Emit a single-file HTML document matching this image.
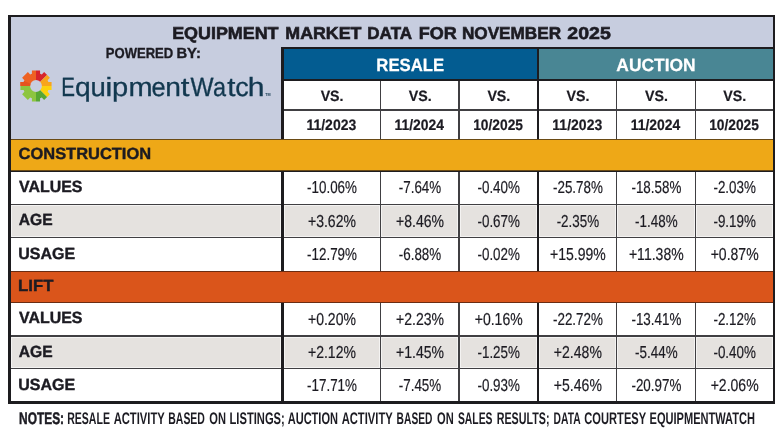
<!DOCTYPE html>
<html>
<head>
<meta charset="utf-8">
<title>Equipment Market Data for November 2025</title>
<style>
html,body{margin:0;padding:0}
body{width:780px;height:439px;position:relative;overflow:hidden;background:#fff;font-family:"Liberation Sans",sans-serif;color:#1c1b22;text-rendering:geometricPrecision}
.a{position:absolute;box-sizing:border-box}
.x{position:absolute;white-space:nowrap;transform-origin:0 0;line-height:40px}
.w{background:#fff}
.g{background:#e5e2df;box-shadow:inset 0 0 0 1px #f4f3f2}
</style>
</head>
<body>
<div id="root" style="position:absolute;left:0;top:0;width:780px;height:439px;will-change:transform;filter:blur(0.35px)">

<div class="a " style="left:8.20px;top:15.00px;width:766.90px;height:388.90px;background:#1d1c1f"></div>
<div class="a " style="left:10.90px;top:17.30px;width:761.70px;height:122.20px;background:#c7cddf"></div>
<svg class="a" style="left:16.05px;top:66.35px" width="40" height="40" viewBox="-20 -20 40 40">
<defs><clipPath id="gc"><path clip-rule="evenodd" d="M-4.09 -12.34 L-4.06 -15.58 L4.06 -15.58 L4.09 -12.34 L5.83 -11.62 L8.14 -13.89 L13.89 -8.14 L11.62 -5.83 L12.34 -4.09 L15.58 -4.06 L15.58 4.06 L12.34 4.09 L11.62 5.83 L13.89 8.14 L8.14 13.89 L5.83 11.62 L4.09 12.34 L4.06 15.58 L-4.06 15.58 L-4.09 12.34 L-5.83 11.62 L-8.14 13.89 L-13.89 8.14 L-11.62 5.83 L-12.34 4.09 L-15.58 4.06 L-15.58 -4.06 L-12.34 -4.09 L-11.62 -5.83 L-13.89 -8.14 L-8.14 -13.89 L-5.83 -11.62 Z M5.90 0 A5.90 5.90 0 1 0 -5.90 0 A5.90 5.90 0 1 0 5.90 0 Z"/></clipPath></defs>
<g clip-path="url(#gc)">
<path d="M0 0 L-20 0 L-20 -20 L0 -20 Z" fill="#ee6223"/>
<path d="M0 0 L-20 0 L-20 -8.3 Z" fill="#e5531f"/>
<path d="M0 0 L0 -20 L20 -20 Z" fill="#d7252b"/>
<path d="M0 0 L20 -20 L20 0 Z" fill="#f8a51c"/>
<path d="M0 0 L20 0 L20 20 Z" fill="#fdd20d"/>
<path d="M0 0 L20 20 L0 20 Z" fill="#57a733"/>
<path d="M0 0 L0 20 L-20 20 L-20 0 Z" fill="#8dc540"/>
</g></svg>
<div class="a " style="left:281.40px;top:47.30px;width:491.20px;height:92.20px;background:#1d1c1f"></div>
<div class="a " style="left:283.70px;top:49.40px;width:253.30px;height:29.20px;background:#035c91"></div>
<div class="a " style="left:539.20px;top:49.40px;width:233.40px;height:29.20px;background:#498694"></div>
<div class="a " style="left:283.70px;top:81.00px;width:488.90px;height:58.50px;background:#403f42"></div>
<div class="a " style="left:537.00px;top:81.00px;width:2.20px;height:58.50px;background:#1d1c1f"></div>
<div class="a w" style="left:283.70px;top:81.00px;width:95.90px;height:28.35px;"></div>
<div class="a w" style="left:283.70px;top:110.85px;width:95.90px;height:28.65px;"></div>
<div class="a w" style="left:381.10px;top:81.00px;width:77.20px;height:28.35px;"></div>
<div class="a w" style="left:381.10px;top:110.85px;width:77.20px;height:28.65px;"></div>
<div class="a w" style="left:459.80px;top:81.00px;width:77.20px;height:28.35px;"></div>
<div class="a w" style="left:459.80px;top:110.85px;width:77.20px;height:28.65px;"></div>
<div class="a w" style="left:539.20px;top:81.00px;width:76.75px;height:28.35px;"></div>
<div class="a w" style="left:539.20px;top:110.85px;width:76.75px;height:28.65px;"></div>
<div class="a w" style="left:617.45px;top:81.00px;width:77.15px;height:28.35px;"></div>
<div class="a w" style="left:617.45px;top:110.85px;width:77.15px;height:28.65px;"></div>
<div class="a w" style="left:696.10px;top:81.00px;width:76.50px;height:28.35px;"></div>
<div class="a w" style="left:696.10px;top:110.85px;width:76.50px;height:28.65px;"></div>
<div class="a " style="left:10.90px;top:171.50px;width:761.70px;height:99.50px;background:#403f42"></div>
<div class="a w" style="left:10.90px;top:171.50px;width:270.60px;height:32.35px;"></div>
<div class="a w" style="left:283.70px;top:171.50px;width:95.90px;height:32.35px;"></div>
<div class="a w" style="left:381.10px;top:171.50px;width:77.20px;height:32.35px;"></div>
<div class="a w" style="left:459.80px;top:171.50px;width:77.20px;height:32.35px;"></div>
<div class="a w" style="left:539.20px;top:171.50px;width:76.75px;height:32.35px;"></div>
<div class="a w" style="left:617.45px;top:171.50px;width:77.15px;height:32.35px;"></div>
<div class="a w" style="left:696.10px;top:171.50px;width:76.50px;height:32.35px;"></div>
<div class="a g" style="left:10.90px;top:205.25px;width:270.60px;height:31.60px;"></div>
<div class="a g" style="left:283.70px;top:205.25px;width:95.90px;height:31.60px;"></div>
<div class="a g" style="left:381.10px;top:205.25px;width:77.20px;height:31.60px;"></div>
<div class="a g" style="left:459.80px;top:205.25px;width:77.20px;height:31.60px;"></div>
<div class="a g" style="left:539.20px;top:205.25px;width:76.75px;height:31.60px;"></div>
<div class="a g" style="left:617.45px;top:205.25px;width:77.15px;height:31.60px;"></div>
<div class="a g" style="left:696.10px;top:205.25px;width:76.50px;height:31.60px;"></div>
<div class="a w" style="left:10.90px;top:238.35px;width:270.60px;height:32.65px;"></div>
<div class="a w" style="left:283.70px;top:238.35px;width:95.90px;height:32.65px;"></div>
<div class="a w" style="left:381.10px;top:238.35px;width:77.20px;height:32.65px;"></div>
<div class="a w" style="left:459.80px;top:238.35px;width:77.20px;height:32.65px;"></div>
<div class="a w" style="left:539.20px;top:238.35px;width:76.75px;height:32.65px;"></div>
<div class="a w" style="left:617.45px;top:238.35px;width:77.15px;height:32.65px;"></div>
<div class="a w" style="left:696.10px;top:238.35px;width:76.50px;height:32.65px;"></div>
<div class="a " style="left:281.40px;top:171.50px;width:2.30px;height:99.50px;background:#1d1c1f"></div>
<div class="a " style="left:537.00px;top:171.50px;width:2.20px;height:99.50px;background:#1d1c1f"></div>
<div class="a " style="left:10.90px;top:303.20px;width:761.70px;height:98.20px;background:#403f42"></div>
<div class="a w" style="left:10.90px;top:303.20px;width:270.60px;height:32.10px;"></div>
<div class="a w" style="left:283.70px;top:303.20px;width:95.90px;height:32.10px;"></div>
<div class="a w" style="left:381.10px;top:303.20px;width:77.20px;height:32.10px;"></div>
<div class="a w" style="left:459.80px;top:303.20px;width:77.20px;height:32.10px;"></div>
<div class="a w" style="left:539.20px;top:303.20px;width:76.75px;height:32.10px;"></div>
<div class="a w" style="left:617.45px;top:303.20px;width:77.15px;height:32.10px;"></div>
<div class="a w" style="left:696.10px;top:303.20px;width:76.50px;height:32.10px;"></div>
<div class="a g" style="left:10.90px;top:336.70px;width:270.60px;height:31.25px;"></div>
<div class="a g" style="left:283.70px;top:336.70px;width:95.90px;height:31.25px;"></div>
<div class="a g" style="left:381.10px;top:336.70px;width:77.20px;height:31.25px;"></div>
<div class="a g" style="left:459.80px;top:336.70px;width:77.20px;height:31.25px;"></div>
<div class="a g" style="left:539.20px;top:336.70px;width:76.75px;height:31.25px;"></div>
<div class="a g" style="left:617.45px;top:336.70px;width:77.15px;height:31.25px;"></div>
<div class="a g" style="left:696.10px;top:336.70px;width:76.50px;height:31.25px;"></div>
<div class="a w" style="left:10.90px;top:369.45px;width:270.60px;height:31.95px;"></div>
<div class="a w" style="left:283.70px;top:369.45px;width:95.90px;height:31.95px;"></div>
<div class="a w" style="left:381.10px;top:369.45px;width:77.20px;height:31.95px;"></div>
<div class="a w" style="left:459.80px;top:369.45px;width:77.20px;height:31.95px;"></div>
<div class="a w" style="left:539.20px;top:369.45px;width:76.75px;height:31.95px;"></div>
<div class="a w" style="left:617.45px;top:369.45px;width:77.15px;height:31.95px;"></div>
<div class="a w" style="left:696.10px;top:369.45px;width:76.50px;height:31.95px;"></div>
<div class="a " style="left:281.40px;top:303.20px;width:2.30px;height:98.20px;background:#1d1c1f"></div>
<div class="a " style="left:537.00px;top:303.20px;width:2.20px;height:98.20px;background:#1d1c1f"></div>
<div class="a " style="left:10.90px;top:139.20px;width:761.70px;height:32.30px;background:#6a4a14"></div>
<div class="a " style="left:10.90px;top:140.40px;width:761.70px;height:29.60px;background:#eea817"></div>
<div class="a " style="left:10.90px;top:270.60px;width:761.70px;height:32.60px;background:#6a2c12"></div>
<div class="a " style="left:10.90px;top:271.70px;width:761.70px;height:30.00px;background:#da551b"></div>
<span class="x" id="title0" style="left:0;top:0;font-size:17.20px;transform:translate(172.13px,13px) scaleX(1.0416);font-weight:bold;-webkit-text-stroke:0.60px #1c1b22">EQUIPMENT</span>
<span class="x" id="title1" style="left:0;top:0;font-size:17.20px;transform:translate(285.34px,13px) scaleX(1.0353);font-weight:bold;-webkit-text-stroke:0.60px #1c1b22">MARKET</span>
<span class="x" id="title2" style="left:0;top:0;font-size:17.20px;transform:translate(367.28px,13px) scaleX(0.9926);font-weight:bold;-webkit-text-stroke:0.60px #1c1b22">DATA</span>
<span class="x" id="title3" style="left:0;top:0;font-size:17.20px;transform:translate(418.82px,13px) scaleX(1.0475);font-weight:bold;-webkit-text-stroke:0.60px #1c1b22">FOR</span>
<span class="x" id="title4" style="left:0;top:0;font-size:17.20px;transform:translate(461.88px,13px) scaleX(0.9992);font-weight:bold;-webkit-text-stroke:0.60px #1c1b22">NOVEMBER</span>
<span class="x" id="title5" style="left:0;top:0;font-size:17.20px;transform:translate(567.29px,13px) scaleX(1.1367);font-weight:bold;-webkit-text-stroke:0.60px #1c1b22">2025</span>
<span class="x" id="pow0" style="left:0;top:0;font-size:14.50px;transform:translate(105.80px,34px) scaleX(0.8997);font-weight:bold;-webkit-text-stroke:0.35px #1c1b22">POWERED</span>
<span class="x" id="pow1" style="left:0;top:0;font-size:14.50px;transform:translate(176.38px,34px) scaleX(1.0233);font-weight:bold;-webkit-text-stroke:0.35px #1c1b22">BY:</span>
<span class="x" id="logo0" style="left:0;top:0;font-size:26.40px;transform:translate(61.14px,67px) scaleX(0.7791);color:#12384f;-webkit-text-stroke:0.30px #12384f">E</span><span class="x" id="logo1" style="left:0;top:0;font-size:26.40px;transform:translate(75.00px,67px) scaleX(1.0695);color:#12384f;-webkit-text-stroke:0.30px #12384f">q</span><span class="x" id="logo2" style="left:0;top:0;font-size:26.40px;transform:translate(90.38px,67px) scaleX(1.0427);color:#12384f;-webkit-text-stroke:0.30px #12384f">u</span><span class="x" id="logo3" style="left:0;top:0;font-size:26.40px;transform:translate(105.16px,67px) scaleX(1.2211);color:#12384f;-webkit-text-stroke:0.30px #12384f">i</span><span class="x" id="logo4" style="left:0;top:0;font-size:26.40px;transform:translate(112.07px,67px) scaleX(1.1032);color:#12384f;-webkit-text-stroke:0.30px #12384f">p</span><span class="x" id="logo5" style="left:0;top:0;font-size:26.40px;transform:translate(128.48px,67px) scaleX(1.0973);color:#12384f;-webkit-text-stroke:0.30px #12384f">m</span><span class="x" id="logo6" style="left:0;top:0;font-size:26.40px;transform:translate(151.52px,67px) scaleX(0.9616);color:#12384f;-webkit-text-stroke:0.30px #12384f">e</span><span class="x" id="logo7" style="left:0;top:0;font-size:26.40px;transform:translate(165.13px,67px) scaleX(1.0667);color:#12384f;-webkit-text-stroke:0.30px #12384f">n</span><span class="x" id="logo8" style="left:0;top:0;font-size:26.40px;transform:translate(180.76px,67px) scaleX(1.1852);color:#12384f;-webkit-text-stroke:0.30px #12384f">t</span><span class="x" id="logo9" style="left:0;top:0;font-size:26.40px;transform:translate(190.38px,67px) scaleX(0.9259);color:#12384f;-webkit-text-stroke:0.30px #12384f">W</span><span class="x" id="logo10" style="left:0;top:0;font-size:26.40px;transform:translate(213.00px,67px) scaleX(0.8889);color:#12384f;-webkit-text-stroke:0.30px #12384f">a</span><span class="x" id="logo11" style="left:0;top:0;font-size:26.40px;transform:translate(227.28px,67px) scaleX(1.1185);color:#12384f;-webkit-text-stroke:0.30px #12384f">t</span><span class="x" id="logo12" style="left:0;top:0;font-size:26.40px;transform:translate(235.15px,67px) scaleX(1.0198);color:#12384f;-webkit-text-stroke:0.30px #12384f">c</span><span class="x" id="logo13" style="left:0;top:0;font-size:26.40px;transform:translate(247.76px,67px) scaleX(1.1416);color:#12384f;-webkit-text-stroke:0.30px #12384f">h</span>
<span class="x" id="tm" style="left:0;top:0;font-size:4.40px;transform:translate(265.20px,75px) scaleX(0.8490);font-weight:bold;color:#12384f">TM</span>
<span class="x" id="resale" style="left:0;top:0;font-size:17.70px;transform:translate(376.34px,45px) scaleX(0.9457);font-weight:bold;color:#fff;-webkit-text-stroke:0.25px #fff">RESALE</span>
<span class="x" id="auction" style="left:0;top:0;font-size:17.70px;transform:translate(616.31px,45px) scaleX(0.9851);font-weight:bold;color:#fff;-webkit-text-stroke:0.25px #fff">AUCTION</span>
<span class="x" id="vs0" style="left:0;top:0;font-size:15.00px;transform:translate(320.63px,77px) scaleX(0.9478);font-weight:bold;-webkit-text-stroke:0.20px #1c1b22">VS.</span>
<span class="x" id="dt0" style="left:0;top:0;font-size:15.10px;transform:translate(306.42px,106px) scaleX(0.9282);font-weight:bold;-webkit-text-stroke:0.20px #1c1b22">11/2023</span>
<span class="x" id="vs1" style="left:0;top:0;font-size:15.00px;transform:translate(408.68px,77px) scaleX(0.9478);font-weight:bold;-webkit-text-stroke:0.20px #1c1b22">VS.</span>
<span class="x" id="dt1" style="left:0;top:0;font-size:15.10px;transform:translate(394.48px,106px) scaleX(0.9216);font-weight:bold;-webkit-text-stroke:0.20px #1c1b22">11/2024</span>
<span class="x" id="vs2" style="left:0;top:0;font-size:15.00px;transform:translate(487.38px,77px) scaleX(0.9478);font-weight:bold;-webkit-text-stroke:0.20px #1c1b22">VS.</span>
<span class="x" id="dt2" style="left:0;top:0;font-size:15.10px;transform:translate(473.19px,106px) scaleX(0.9129);font-weight:bold;-webkit-text-stroke:0.20px #1c1b22">10/2025</span>
<span class="x" id="vs3" style="left:0;top:0;font-size:15.00px;transform:translate(566.56px,77px) scaleX(0.9478);font-weight:bold;-webkit-text-stroke:0.20px #1c1b22">VS.</span>
<span class="x" id="dt3" style="left:0;top:0;font-size:15.10px;transform:translate(552.35px,106px) scaleX(0.9282);font-weight:bold;-webkit-text-stroke:0.20px #1c1b22">11/2023</span>
<span class="x" id="vs4" style="left:0;top:0;font-size:15.00px;transform:translate(645.01px,77px) scaleX(0.9478);font-weight:bold;-webkit-text-stroke:0.20px #1c1b22">VS.</span>
<span class="x" id="dt4" style="left:0;top:0;font-size:15.10px;transform:translate(630.80px,106px) scaleX(0.9216);font-weight:bold;-webkit-text-stroke:0.20px #1c1b22">11/2024</span>
<span class="x" id="vs5" style="left:0;top:0;font-size:15.00px;transform:translate(723.33px,77px) scaleX(0.9478);font-weight:bold;-webkit-text-stroke:0.20px #1c1b22">VS.</span>
<span class="x" id="dt5" style="left:0;top:0;font-size:15.10px;transform:translate(709.14px,106px) scaleX(0.9129);font-weight:bold;-webkit-text-stroke:0.20px #1c1b22">10/2025</span>
<span class="x" id="construction" style="left:0;top:0;font-size:16.20px;transform:translate(18.56px,134px) scaleX(1.0167);font-weight:bold;-webkit-text-stroke:0.40px #1c1b22">CONSTRUCTION</span>
<span class="x" id="lift" style="left:0;top:0;font-size:16.20px;transform:translate(18.03px,266px) scaleX(1.0373);font-weight:bold;-webkit-text-stroke:0.40px #1c1b22">LIFT</span>
<span class="x" id="alab0" style="left:0;top:0;font-size:16.20px;transform:translate(19.08px,167px) scaleX(0.9820);font-weight:bold;-webkit-text-stroke:0.40px #1c1b22">VALUES</span>
<span class="x" id="blab0" style="left:0;top:0;font-size:16.20px;transform:translate(19.08px,298px) scaleX(0.9820);font-weight:bold;-webkit-text-stroke:0.40px #1c1b22">VALUES</span>
<span class="x" id="alab1" style="left:0;top:0;font-size:16.20px;transform:translate(18.84px,200px) scaleX(0.9641);font-weight:bold;-webkit-text-stroke:0.40px #1c1b22">AGE</span>
<span class="x" id="blab1" style="left:0;top:0;font-size:16.20px;transform:translate(18.84px,332px) scaleX(0.9641);font-weight:bold;-webkit-text-stroke:0.40px #1c1b22">AGE</span>
<span class="x" id="alab2" style="left:0;top:0;font-size:16.20px;transform:translate(18.21px,234px) scaleX(0.9875);font-weight:bold;-webkit-text-stroke:0.40px #1c1b22">USAGE</span>
<span class="x" id="blab2" style="left:0;top:0;font-size:16.20px;transform:translate(18.21px,365px) scaleX(0.9875);font-weight:bold;-webkit-text-stroke:0.40px #1c1b22">USAGE</span>
<span class="x" id="ad0_0" style="left:0;top:0;font-size:17.30px;transform:translate(307.06px,167px) scaleX(0.7750);-webkit-text-stroke:0.20px #1c1b22">-10.06%</span>
<span class="x" id="ad0_1" style="left:0;top:0;font-size:17.30px;transform:translate(398.79px,167px) scaleX(0.7750);-webkit-text-stroke:0.20px #1c1b22">-7.64%</span>
<span class="x" id="ad0_2" style="left:0;top:0;font-size:17.30px;transform:translate(477.49px,167px) scaleX(0.7750);-webkit-text-stroke:0.20px #1c1b22">-0.40%</span>
<span class="x" id="ad0_3" style="left:0;top:0;font-size:17.30px;transform:translate(552.98px,167px) scaleX(0.7750);-webkit-text-stroke:0.20px #1c1b22">-25.78%</span>
<span class="x" id="ad0_4" style="left:0;top:0;font-size:17.30px;transform:translate(631.43px,167px) scaleX(0.7750);-webkit-text-stroke:0.20px #1c1b22">-18.58%</span>
<span class="x" id="ad0_5" style="left:0;top:0;font-size:17.30px;transform:translate(713.44px,167px) scaleX(0.7750);-webkit-text-stroke:0.20px #1c1b22">-2.03%</span>
<span class="x" id="ad1_0" style="left:0;top:0;font-size:17.30px;transform:translate(307.94px,201px) scaleX(0.8120);-webkit-text-stroke:0.20px #1c1b22">+3.62%</span>
<span class="x" id="ad1_1" style="left:0;top:0;font-size:17.30px;transform:translate(395.99px,201px) scaleX(0.8120);-webkit-text-stroke:0.20px #1c1b22">+8.46%</span>
<span class="x" id="ad1_2" style="left:0;top:0;font-size:17.30px;transform:translate(477.49px,201px) scaleX(0.7750);-webkit-text-stroke:0.20px #1c1b22">-0.67%</span>
<span class="x" id="ad1_3" style="left:0;top:0;font-size:17.30px;transform:translate(556.66px,201px) scaleX(0.7750);-webkit-text-stroke:0.20px #1c1b22">-2.35%</span>
<span class="x" id="ad1_4" style="left:0;top:0;font-size:17.30px;transform:translate(635.11px,201px) scaleX(0.7750);-webkit-text-stroke:0.20px #1c1b22">-1.48%</span>
<span class="x" id="ad1_5" style="left:0;top:0;font-size:17.30px;transform:translate(713.44px,201px) scaleX(0.7750);-webkit-text-stroke:0.20px #1c1b22">-9.19%</span>
<span class="x" id="ad2_0" style="left:0;top:0;font-size:17.30px;transform:translate(307.06px,234px) scaleX(0.7750);-webkit-text-stroke:0.20px #1c1b22">-12.79%</span>
<span class="x" id="ad2_1" style="left:0;top:0;font-size:17.30px;transform:translate(398.79px,234px) scaleX(0.7750);-webkit-text-stroke:0.20px #1c1b22">-6.88%</span>
<span class="x" id="ad2_2" style="left:0;top:0;font-size:17.30px;transform:translate(477.49px,234px) scaleX(0.7750);-webkit-text-stroke:0.20px #1c1b22">-0.02%</span>
<span class="x" id="ad2_3" style="left:0;top:0;font-size:17.30px;transform:translate(549.96px,234px) scaleX(0.8120);-webkit-text-stroke:0.20px #1c1b22">+15.99%</span>
<span class="x" id="ad2_4" style="left:0;top:0;font-size:17.30px;transform:translate(628.92px,234px) scaleX(0.8120);-webkit-text-stroke:0.20px #1c1b22">+11.38%</span>
<span class="x" id="ad2_5" style="left:0;top:0;font-size:17.30px;transform:translate(710.64px,234px) scaleX(0.8120);-webkit-text-stroke:0.20px #1c1b22">+0.87%</span>
<span class="x" id="bd0_0" style="left:0;top:0;font-size:17.30px;transform:translate(307.94px,299px) scaleX(0.8120);-webkit-text-stroke:0.20px #1c1b22">+0.20%</span>
<span class="x" id="bd0_1" style="left:0;top:0;font-size:17.30px;transform:translate(395.99px,299px) scaleX(0.8120);-webkit-text-stroke:0.20px #1c1b22">+2.23%</span>
<span class="x" id="bd0_2" style="left:0;top:0;font-size:17.30px;transform:translate(474.69px,299px) scaleX(0.8120);-webkit-text-stroke:0.20px #1c1b22">+0.16%</span>
<span class="x" id="bd0_3" style="left:0;top:0;font-size:17.30px;transform:translate(552.98px,299px) scaleX(0.7750);-webkit-text-stroke:0.20px #1c1b22">-22.72%</span>
<span class="x" id="bd0_4" style="left:0;top:0;font-size:17.30px;transform:translate(631.43px,299px) scaleX(0.7750);-webkit-text-stroke:0.20px #1c1b22">-13.41%</span>
<span class="x" id="bd0_5" style="left:0;top:0;font-size:17.30px;transform:translate(713.44px,299px) scaleX(0.7750);-webkit-text-stroke:0.20px #1c1b22">-2.12%</span>
<span class="x" id="bd1_0" style="left:0;top:0;font-size:17.30px;transform:translate(307.94px,332px) scaleX(0.8120);-webkit-text-stroke:0.20px #1c1b22">+2.12%</span>
<span class="x" id="bd1_1" style="left:0;top:0;font-size:17.30px;transform:translate(395.99px,332px) scaleX(0.8120);-webkit-text-stroke:0.20px #1c1b22">+1.45%</span>
<span class="x" id="bd1_2" style="left:0;top:0;font-size:17.30px;transform:translate(477.49px,332px) scaleX(0.7750);-webkit-text-stroke:0.20px #1c1b22">-1.25%</span>
<span class="x" id="bd1_3" style="left:0;top:0;font-size:17.30px;transform:translate(553.87px,332px) scaleX(0.8120);-webkit-text-stroke:0.20px #1c1b22">+2.48%</span>
<span class="x" id="bd1_4" style="left:0;top:0;font-size:17.30px;transform:translate(635.11px,332px) scaleX(0.7750);-webkit-text-stroke:0.20px #1c1b22">-5.44%</span>
<span class="x" id="bd1_5" style="left:0;top:0;font-size:17.30px;transform:translate(713.44px,332px) scaleX(0.7750);-webkit-text-stroke:0.20px #1c1b22">-0.40%</span>
<span class="x" id="bd2_0" style="left:0;top:0;font-size:17.30px;transform:translate(307.06px,365px) scaleX(0.7750);-webkit-text-stroke:0.20px #1c1b22">-17.71%</span>
<span class="x" id="bd2_1" style="left:0;top:0;font-size:17.30px;transform:translate(398.79px,365px) scaleX(0.7750);-webkit-text-stroke:0.20px #1c1b22">-7.45%</span>
<span class="x" id="bd2_2" style="left:0;top:0;font-size:17.30px;transform:translate(477.49px,365px) scaleX(0.7750);-webkit-text-stroke:0.20px #1c1b22">-0.93%</span>
<span class="x" id="bd2_3" style="left:0;top:0;font-size:17.30px;transform:translate(553.87px,365px) scaleX(0.8120);-webkit-text-stroke:0.20px #1c1b22">+5.46%</span>
<span class="x" id="bd2_4" style="left:0;top:0;font-size:17.30px;transform:translate(631.43px,365px) scaleX(0.7750);-webkit-text-stroke:0.20px #1c1b22">-20.97%</span>
<span class="x" id="bd2_5" style="left:0;top:0;font-size:17.30px;transform:translate(710.64px,365px) scaleX(0.8120);-webkit-text-stroke:0.20px #1c1b22">+2.06%</span>
<span class="x" id="n0" style="left:0;top:0;font-size:16.80px;transform:translate(19.10px,399px) scaleX(0.7095);font-weight:bold;-webkit-text-stroke:0.50px #1c1b22">NOTES:</span>
<span class="x" id="n1" style="left:0;top:0;font-size:16.80px;transform:translate(67.19px,399px) scaleX(0.6282);font-weight:bold">RESALE</span>
<span class="x" id="n2" style="left:0;top:0;font-size:16.80px;transform:translate(113.67px,399px) scaleX(0.6678);font-weight:bold">ACTIVITY</span>
<span class="x" id="n3" style="left:0;top:0;font-size:16.80px;transform:translate(168.30px,399px) scaleX(0.6228);font-weight:bold">BASED</span>
<span class="x" id="n4" style="left:0;top:0;font-size:16.80px;transform:translate(209.30px,399px) scaleX(0.6624);font-weight:bold">ON</span>
<span class="x" id="n5" style="left:0;top:0;font-size:16.80px;transform:translate(229.55px,399px) scaleX(0.6656);font-weight:bold">LISTINGS;</span>
<span class="x" id="n6" style="left:0;top:0;font-size:16.80px;transform:translate(287.67px,399px) scaleX(0.6584);font-weight:bold">AUCTION</span>
<span class="x" id="n7" style="left:0;top:0;font-size:16.80px;transform:translate(341.67px,399px) scaleX(0.6678);font-weight:bold">ACTIVITY</span>
<span class="x" id="n8" style="left:0;top:0;font-size:16.80px;transform:translate(396.62px,399px) scaleX(0.6088);font-weight:bold">BASED</span>
<span class="x" id="n9" style="left:0;top:0;font-size:16.80px;transform:translate(437.10px,399px) scaleX(0.6624);font-weight:bold">ON</span>
<span class="x" id="n10" style="left:0;top:0;font-size:16.80px;transform:translate(457.89px,399px) scaleX(0.6196);font-weight:bold">SALES</span>
<span class="x" id="n11" style="left:0;top:0;font-size:16.80px;transform:translate(496.68px,399px) scaleX(0.6388);font-weight:bold">RESULTS;</span>
<span class="x" id="n12" style="left:0;top:0;font-size:16.80px;transform:translate(553.61px,399px) scaleX(0.6123);font-weight:bold">DATA</span>
<span class="x" id="n13" style="left:0;top:0;font-size:16.80px;transform:translate(584.30px,399px) scaleX(0.6634);font-weight:bold">COURTESY</span>
<span class="x" id="n14" style="left:0;top:0;font-size:16.80px;transform:translate(649.56px,399px) scaleX(0.6587);font-weight:bold">EQUIPMENTWATCH</span>
</div>
</body>
</html>
